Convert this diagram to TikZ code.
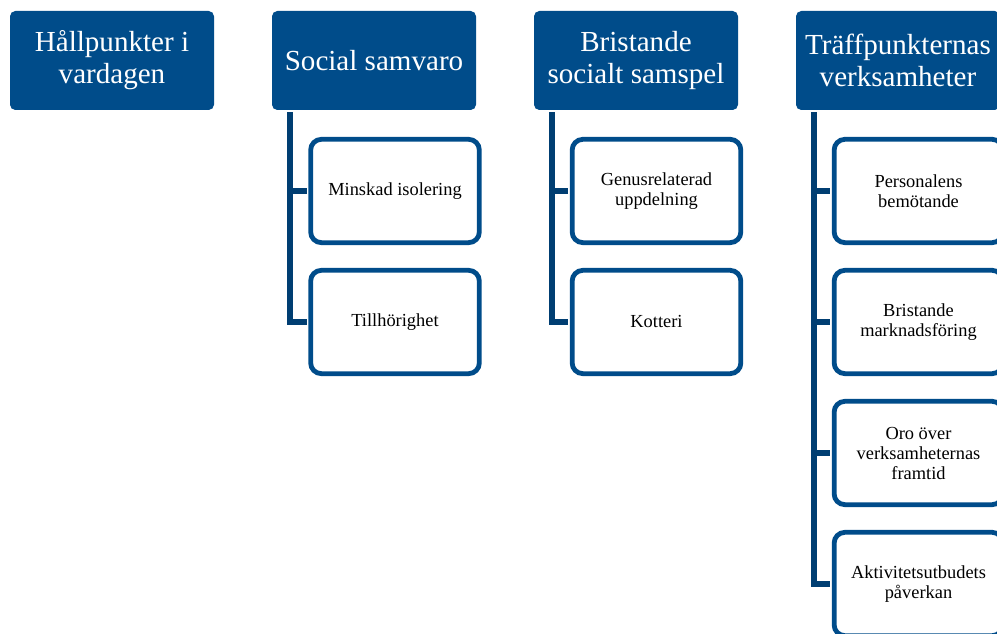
\documentclass[tikz,border=0pt]{standalone}
\usepackage{fontspec}
\setmainfont{Liberation Serif}
\newfontfamily\tnr{Liberation Serif}
\definecolor{headblue}{RGB}{0,76,138}
\definecolor{lineblue}{RGB}{0,62,114}
\tikzset{
  x=0.75pt, y=-0.75pt,
  headbox/.style={fill=headblue, text=white, rounded corners=4pt, minimum width=153pt, minimum height=74.25pt, inner sep=0pt, align=center, font=\tnr\fontsize{21.8}{24}\selectfont},
  childbox/.style={draw=headblue, fill=white, line width=3.6pt, rounded corners=8pt, minimum width=126.5pt, minimum height=77.5pt, inner sep=0pt, align=center, font=\tnr\fontsize{13.8}{15}\selectfont},
  conn/.style={draw=lineblue, line width=4.2pt},
}
\begin{document}
\begin{tikzpicture}
\clip (0,0) rectangle (997,634);
\fill[white] (0,0) rectangle (997,634);
% headers
\node[headbox] (h1) at (112,60.5) {Hållpunkter i\\vardagen};
\node[headbox] (h2) at (374,60.5) {Social samvaro};
\node[headbox] (h3) at (636,60.5) {Bristande\\socialt samspel};
\node[headbox] (h4) at (898,60.5) {Träffpunkternas\\verksamheter};
% children
\node[childbox] (c21) at (395,191) {Minskad isolering};
\node[childbox] (c22) at (395,322) {Tillhörighet};
\node[childbox] (c31) at (656.5,191) {Genusrelaterad\\uppdelning};
\node[childbox] (c32) at (656.5,322) {Kotteri};
\node[childbox] (c41) at (918.5,191) {Personalens\\bemötande};
\node[childbox] (c42) at (918.5,322) {Bristande\\marknadsföring};
\node[childbox] (c43) at (918.5,453) {Oro över\\verksamheternas\\framtid};
\node[childbox] (c44) at (918.5,584) {Aktivitetsutbudets\\påverkan};
% connector start points
\coordinate (s2) at ([xshift=13.5pt,yshift=-1.5pt]h2.south west);
\coordinate (s3) at ([xshift=13.5pt,yshift=-1.5pt]h3.south west);
\coordinate (s4) at ([xshift=13.5pt,yshift=-1.5pt]h4.south west);
\draw[conn] (s2) |- ([xshift=-1pt]c21.west);
\draw[conn] (s2) |- ([xshift=-1pt]c22.west);
\draw[conn] (s3) |- ([xshift=-1pt]c31.west);
\draw[conn] (s3) |- ([xshift=-1pt]c32.west);
\draw[conn] (s4) |- ([xshift=-1pt]c41.west);
\draw[conn] (s4) |- ([xshift=-1pt]c42.west);
\draw[conn] (s4) |- ([xshift=-1pt]c43.west);
\draw[conn] (s4) |- ([xshift=-1pt]c44.west);
\end{tikzpicture}
\end{document}
